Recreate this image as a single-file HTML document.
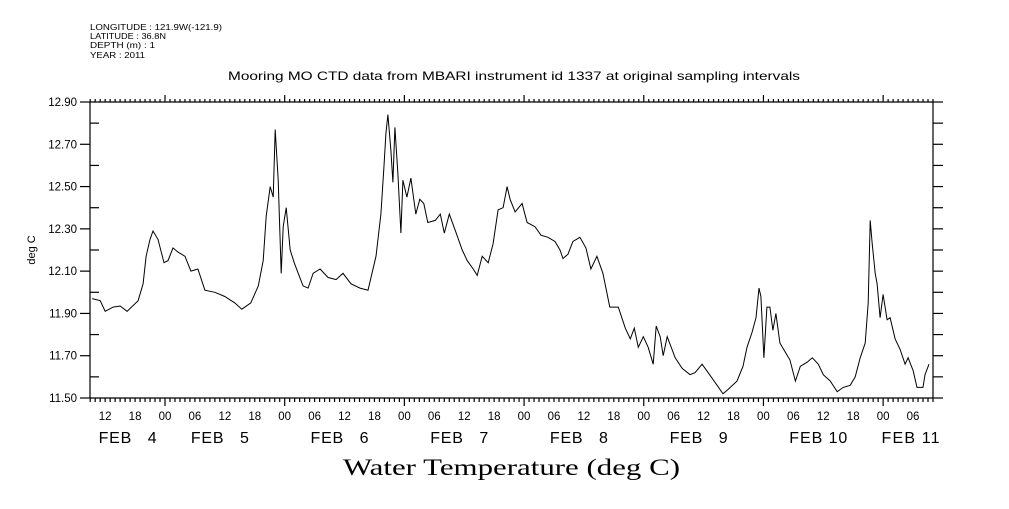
<!DOCTYPE html>
<html><head><meta charset="utf-8"><style>
body{margin:0;background:#fff;}
svg text{font-family:"Liberation Sans",sans-serif;fill:#000;white-space:pre;}
</style></head><body>
<svg id="chart" width="1009" height="504" xmlns="http://www.w3.org/2000/svg">
<g font-size="8.5">
<text x="90" y="30" textLength="132" lengthAdjust="spacingAndGlyphs">LONGITUDE : 121.9W(-121.9)</text>
<text x="90" y="39" textLength="76" lengthAdjust="spacingAndGlyphs">LATITUDE : 36.8N</text>
<text x="90" y="48" textLength="65" lengthAdjust="spacingAndGlyphs">DEPTH (m) : 1</text>
<text x="90" y="58" textLength="55" lengthAdjust="spacingAndGlyphs">YEAR : 2011</text>
</g>
<text x="228" y="80" font-size="12" textLength="572" lengthAdjust="spacingAndGlyphs">Mooring MO CTD data from MBARI instrument id 1337 at original sampling intervals</text>
<text transform="translate(35,250) rotate(-90)" font-size="11" text-anchor="middle">deg C</text>
<text x="343" y="475" font-size="23" textLength="337" lengthAdjust="spacingAndGlyphs" style="font-family:'Liberation Serif',serif">Water Temperature (deg C)</text>
<g id="axes"></g>
<path id="series" fill="none" stroke="#000" stroke-width="1"/>
</svg>
<script>
const hours=[9.4,11.0,12.0,13.6,15.0,16.4,18.6,19.6,20.2,21.0,21.6,22.6,23.8,24.6,25.6,26.6,28.0,29.2,30.6,32.0,34.0,36.0,38.0,39.4,41.2,42.7,43.7,44.3,45.1,45.7,46.1,46.7,47.3,47.7,48.3,49.1,49.9,50.7,51.7,52.7,53.7,55.1,56.7,58.3,59.7,61.3,63.1,64.7,65.7,66.3,67.3,67.9,68.3,68.7,69.3,69.7,70.1,70.7,71.3,71.7,72.5,73.3,74.3,75.1,75.9,76.7,78.2,79.2,80.0,81.0,82.4,83.6,84.6,85.8,86.6,87.6,88.8,89.8,90.8,91.8,92.6,93.2,94.2,95.6,96.6,98.2,99.4,100.8,102.2,103.2,103.8,104.8,105.8,107.2,108.4,109.4,110.6,111.8,113.2,114.9,116.3,117.3,118.1,118.9,119.9,120.9,121.9,122.5,123.3,123.9,124.7,126.3,127.7,129.3,130.3,131.7,132.9,134.7,135.9,136.9,138.7,139.9,140.7,141.7,142.5,143.1,143.5,144.1,144.7,145.3,145.9,146.5,147.3,148.3,149.3,150.4,151.4,152.8,153.8,155.0,156.0,157.4,158.8,160.0,161.4,162.4,163.4,164.4,165.0,165.4,165.8,166.4,166.8,167.4,168.0,168.8,169.4,170.4,171.4,172.4,173.0,174.0,174.8,176.0,176.4,177.2];
const temps=[11.97,11.96,11.91,11.93,11.935,11.91,11.96,12.04,12.17,12.25,12.29,12.25,12.14,12.15,12.21,12.19,12.17,12.10,12.11,12.01,12.00,11.98,11.95,11.92,11.95,12.03,12.15,12.36,12.50,12.45,12.77,12.53,12.09,12.31,12.40,12.20,12.14,12.09,12.03,12.02,12.09,12.11,12.07,12.06,12.09,12.04,12.02,12.01,12.11,12.17,12.37,12.59,12.75,12.84,12.67,12.52,12.78,12.56,12.28,12.53,12.45,12.54,12.37,12.44,12.42,12.33,12.34,12.37,12.28,12.37,12.28,12.20,12.15,12.11,12.08,12.17,12.14,12.23,12.39,12.40,12.50,12.44,12.38,12.42,12.33,12.31,12.27,12.26,12.24,12.20,12.16,12.18,12.24,12.26,12.21,12.11,12.17,12.09,11.93,11.93,11.83,11.78,11.83,11.74,11.79,11.74,11.66,11.84,11.79,11.70,11.79,11.69,11.64,11.61,11.62,11.66,11.62,11.56,11.52,11.54,11.58,11.65,11.74,11.81,11.88,12.02,11.98,11.69,11.93,11.93,11.82,11.90,11.76,11.72,11.68,11.58,11.65,11.67,11.69,11.66,11.61,11.58,11.53,11.55,11.56,11.60,11.69,11.76,11.95,12.34,12.23,12.09,12.04,11.88,11.99,11.87,11.88,11.78,11.73,11.66,11.69,11.63,11.55,11.55,11.61,11.66];
const yTicks=[11.5,11.6,11.7,11.8,11.9,12.0,12.1,12.2,12.3,12.4,12.5,12.6,12.7,12.8,12.9];
const yLabels=["11.50","11.70","11.90","12.10","12.30","12.50","12.70","12.90"];
const hourLabels=["12","18","00","06","12","18","00","06","12","18","00","06","12","18","00","06","12","18","00","06","12","18","00","06","12","18","00","06","12","18","00","06"];
const dayLabels=["FEB   4","FEB   5","FEB   6","FEB   7","FEB   8","FEB   9","FEB 10","FEB 11"];
const dayCenters=[16.5,35,59,83,107,131,155,173.5];

const X0=90,X1=933,Y0=102,Y1=398,H0=8.96,H1=178.0,V0=11.5,V1=12.9;
const sx=h=>X0+(h-H0)/(H1-H0)*(X1-X0);
const sy=v=>Y1-(v-V0)/(V1-V0)*(Y1-Y0);
const NS="http://www.w3.org/2000/svg";
const ax=document.getElementById('axes');
function ln(x1,y1,x2,y2,name){const l=document.createElementNS(NS,'line');
l.setAttribute('x1',x1);l.setAttribute('y1',y1);l.setAttribute('x2',x2);l.setAttribute('y2',y2);
l.setAttribute('stroke','#000');l.setAttribute('stroke-width','1.2');


ax.appendChild(l);}
function tx(x,y,s,size,anchor,name){const t=document.createElementNS(NS,'text');
t.setAttribute('x',x);t.setAttribute('y',y);t.setAttribute('font-size',size);t.setAttribute('text-anchor',anchor);t.textContent=s;


ax.appendChild(t);return t;}
ln(X0,Y0,X1,Y0,'plot-frame-top');ln(X0,Y1,X1,Y1,'plot-frame-bottom');
ln(X0,Y0,X0,Y1,'plot-frame-left');ln(X1,Y0,X1,Y1,'plot-frame-right');
yTicks.forEach((v,i)=>{const y=sy(v);
 if(i%2===0){ln(X0-10,y,X0,y,'y-tick-major');}else{ln(X0,y,X0+9,y,'y-tick-minor');}
 ln(X1,y,X1+10,y,'y-tick-right');});
yLabels.forEach(s=>tx(X0-13,sy(parseFloat(s))+4,s,11.5,'end','y-tick-label'));
for(let h=Math.ceil(H0);h<=H1;h++){const x=sx(h);const major=h%24===0;
 ln(x,Y0,x,Y0-(major?7:3),'x-tick-top');ln(x,Y1,x,Y1+(major?8:4),'x-tick-bottom');}
let k=0;for(let h=12;h<=H1;h+=6){tx(sx(h),Y1+22,hourLabels[k++],11.5,'middle','hour-label');}
dayLabels.forEach((s,i)=>{const t=tx(sx(dayCenters[i]),Y1+45,s,16,'middle','day-label');t.setAttribute('textLength','58');});
document.getElementById('series').setAttribute('d',hours.map((h,i)=>(i?'L':'M')+sx(h).toFixed(1)+','+sy(temps[i]).toFixed(1)).join(''));
</script>
</body></html>
